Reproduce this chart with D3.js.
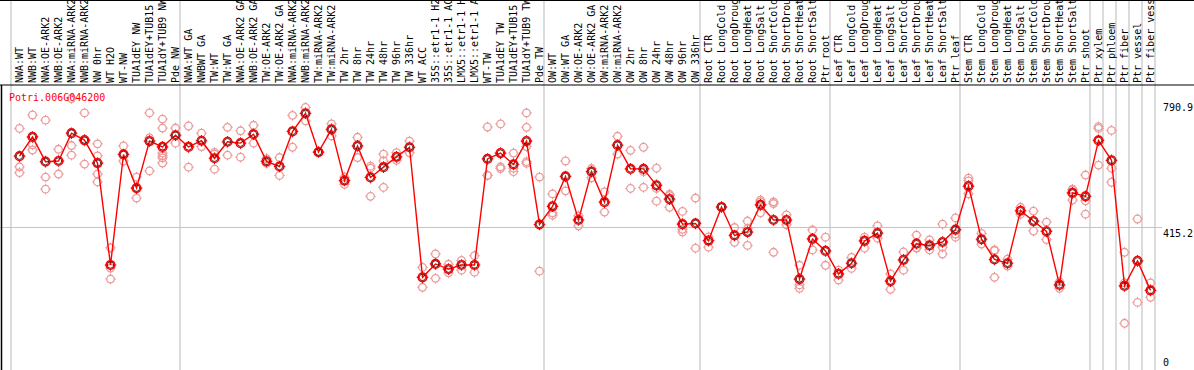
<!DOCTYPE html>
<html>
<head>
<meta charset="utf-8">
<script src="https://cdn.jsdelivr.net/npm/d3@7/dist/d3.min.js"></script>
<style>
body { margin: 0; background: #fff; }
svg { display: block; }
text { font-family: "DejaVu Sans Mono", monospace; font-size: 10px; }
</style>
</head>
<body>
<script>
var width = 1194,
    height = 370;

var geneId = "Potri.006G046200";

var labels = [
  "NWA:WT", "NWB:WT", "NWA:OE-ARK2", "NWB:OE-ARK2", "NWA:miRNA-ARK2", "NWB:miRNA-ARK2",
  "NW 0hr", "WT H2O", "WT-NW", "TUA1dEY NW", "TUA1dEY+TUB15", "TUA1dY+TUB9 NW", "Pde NW",
  "NWA:WT GA", "NWBWT GA", "TW:WT", "TW:WT GA", "NWA:OE-ARK2 GA", "NWB:OE-ARK2 GA",
  "TW:OE-ARK2", "TW:OE-ARK2 GA", "NWA:miRNA-ARK2", "NWB:miRNA-ARK2", "TW:miRNA-ARK2",
  "TW:miRNA-ARK2", "TW 2hr", "TW 8hr", "TW 24hr", "TW 48hr", "TW 96hr", "TW 336hr", "WT ACC",
  "35S::etr1-1 H2O", "35S::etr1-1 ACC", "LMX5::etr1-1 H2O", "LMX5::etr1-1 ACC", "WT-TW",
  "TUA1dEY TW", "TUA1dEY+TUB15", "TUA1dY+TUB9 TW", "Pde TW",
  "OW:WT", "OW:WT GA", "OW:OE-ARK2", "OW:OE-ARK2 GA", "OW:miRNA-ARK2", "OW:miRNA-ARK2",
  "OW 2hr", "OW 8hr", "OW 24hr", "OW 48hr", "OW 96hr", "OW 336hr",
  "Root CTR", "Root LongCold", "Root LongDrought", "Root LongHeat", "Root LongSalt",
  "Root ShortCold", "Root ShortDrought", "Root ShortHeat", "Root ShortSalt", "Ptr root",
  "Leaf CTR", "Leaf LongCold", "Leaf LongDrought", "Leaf LongHeat", "Leaf LongSalt",
  "Leaf ShortCold", "Leaf ShortDrought", "Leaf ShortHeat", "Leaf ShortSalt", "Ptr leaf",
  "Stem CTR", "Stem LongCold", "Stem LongDrought", "Stem LongHeat", "Stem LongSalt",
  "Stem ShortCold", "Stem ShortDrought", "Stem ShortHeat", "Stem ShortSalt", "Ptr shoot",
  "Ptr xylem", "Ptr phloem", "Ptr fiber", "Ptr vessel", "Ptr fiber vessel"
];

// number of samples in each block between the grey separators
var groupSizes = [13, 28, 12, 10, 10, 10, 1, 1, 1, 1, 1];

// mean expression per sample
var means = [
  623, 679, 607, 609, 690, 670, 603, 306, 628, 530, 667, 650, 684,
  650, 668, 617, 665, 661, 687, 608, 593, 695, 748, 635, 701, 552, 653, 561, 591, 621,
  649, 270, 309, 294, 306, 306, 615, 632, 599, 667, 424,
  477, 564, 437, 578, 489, 655, 586, 586, 538, 498, 425, 427,
  377, 475, 392, 402, 481, 437, 437, 265, 382, 347,
  280, 311, 376, 399, 259, 321, 368, 363, 373, 409,
  536, 381, 322, 311, 464, 434, 404, 248, 516, 506,
  669, 611, 245, 318, 232
];

// individual replicates per sample
var replicates = [
  [704, 592, 575], [743, 656, 641], [728, 562, 527], [643, 571], [790.9, 654, 626],
  [749, 667, 600], [659, 624, 571, 548], [356, 297, 265], [653, 609, 628], [562, 501],
  [749, 676, 580], [731, 705, 632, 624, 618, 603], [705, 661],
  [711, 591], [690, 651], [634, 629, 585], [707, 626], [697, 620], [713, 661],
  [616, 602], [619, 567], [742, 649], [765, 726], [635, 635], [717, 682], [562, 541],
  [678, 619], [594, 588, 506], [629, 609, 532], [633, 611], [667, 633],
  [299, 241], [338, 267, 309], [308, 283], [319, 291], [333, 285],
  [708, 567, 567], [717, 592, 587], [632, 588, 578], [749, 707, 651, 607, 602], [562, 288],
  [513, 458, 451], [609, 522], [449, 420], [587, 560], [519, 460], [681, 629],
  [640, 529], [649, 578, 532], [588, 529, 492], [512, 508, 474], [462, 410, 402], [501, 355],
  [388, 358], [475, 475], [415, 372], [434, 412, 363], [495, 490, 458], [490, 485, 343],
  [452, 423], [305, 248, 238], [408, 350], [387, 305],
  [291, 262], [328, 296], [387, 355, 379], [420, 384], [280, 235], [344, 291],
  [393, 355, 356], [379, 350], [425, 358, 338], [443, 387, 396],
  [559, 551, 513], [398, 367], [350, 270, 348], [323, 303], [474, 454], [463, 405],
  [431, 380], [257, 238], [527, 525, 495], [568, 493, 454],
  [709, 704, 597], [698, 588, 547], [343, 254, 136], [440, 197], [254, 212]
];

// value ticks written on the right edge
var yTicks = [0, 415.2, 790.9];

var svg = d3.select("body").append("svg")
    .attr("width", width)
    .attr("height", height);

var headerBottom = 85;

var x = d3.scalePoint()
    .domain(d3.range(labels.length))
    .range([19.5, 1150.5]);

var step = x.step();

var y = d3.scaleLinear()
    .domain([0, yTicks[1] * 2])
    .range([height, headerBottom]);

// separator positions (start of each block + right edge)
var bounds = [0];
groupSizes.forEach(function(n, i) { bounds.push(bounds[i] + n); });

svg.append("g")
    .selectAll("line")
    .data(bounds)
    .enter().append("line")
    .attr("x1", function(d) { return x(0) + d * step - 8.5; })
    .attr("x2", function(d) { return x(0) + d * step - 8.5; })
    .attr("y1", 0)
    .attr("y2", height)
    .attr("stroke", "#c4c4c4")
    .attr("stroke-width", 1.2);

// mid line
svg.append("line")
    .attr("x1", 0)
    .attr("x2", 1162)
    .attr("y1", y(yTicks[1]))
    .attr("y2", y(yTicks[1]))
    .attr("stroke", "#c4c4c4")
    .attr("stroke-width", 1.2);

// frame
svg.append("line")
    .attr("x1", 0).attr("x2", width)
    .attr("y1", 0.5).attr("y2", 0.5)
    .attr("stroke", "#000");
svg.append("line")
    .attr("x1", 0).attr("x2", width)
    .attr("y1", headerBottom).attr("y2", headerBottom)
    .attr("stroke", "#000")
    .attr("stroke-width", 1.2);
svg.append("line")
    .attr("x1", 1.5).attr("x2", 1.5)
    .attr("y1", headerBottom).attr("y2", height)
    .attr("stroke", "#000")
    .attr("stroke-width", 1.5);

// sample names
svg.append("g")
    .selectAll("text")
    .data(labels)
    .enter().append("text")
    .attr("transform", function(d, i) {
        return "translate(" + [x(i) + 3.5, headerBottom - 2] + ")rotate(-90)";
    })
    .attr("fill", "#000")
    .text(function(d) { return d; });

// value labels
svg.append("g")
    .selectAll("text")
    .data(yTicks)
    .enter().append("text")
    .attr("x", 1163)
    .attr("y", function(d, i) { return y(d) + (i === 0 ? -4.5 : i === 1 ? 9 : 12.5); })
    .attr("fill", "#000")
    .text(function(d) { return d; });

function ticks(cx, cy, r) {
    return "M" + [cx, cy - r - 1.5] + "v1.5" +
           "M" + [cx, cy + r] + "v1.5" +
           "M" + [cx - r - 1.5, cy] + "h1.5" +
           "M" + [cx + r, cy] + "h1.5";
}

// replicates
var reps = [];
replicates.forEach(function(list, i) {
    list.forEach(function(v) { reps.push([i, v]); });
});

var repG = svg.append("g")
    .selectAll("g")
    .data(reps)
    .enter().append("g");

repG.append("circle")
    .attr("cx", function(d) { return x(d[0]); })
    .attr("cy", function(d) { return y(d[1]); })
    .attr("r", 3.8)
    .attr("fill", "none")
    .attr("stroke", "#eb9a9a")
    .attr("stroke-width", 1.3);

repG.append("path")
    .attr("d", function(d) { return ticks(x(d[0]), y(d[1]), 3.8); })
    .attr("stroke", "#eb9a9a")
    .attr("stroke-width", 1);

// mean line
svg.append("path")
    .datum(means)
    .attr("fill", "none")
    .attr("stroke", "#ff0000")
    .attr("stroke-width", 1.4)
    .attr("d", d3.line()
        .x(function(d, i) { return x(i); })
        .y(function(d) { return y(d); }));

var meanG = svg.append("g")
    .selectAll("g")
    .data(means)
    .enter().append("g");

meanG.append("circle")
    .attr("cx", function(d, i) { return x(i); })
    .attr("cy", function(d) { return y(d); })
    .attr("r", 4.3)
    .attr("fill", "none")
    .attr("stroke", "#ff0000")
    .attr("stroke-width", 1.6);

meanG.append("circle")
    .attr("cx", function(d, i) { return x(i); })
    .attr("cy", function(d) { return y(d); })
    .attr("r", 3.2)
    .attr("fill", "none")
    .attr("stroke", "#300000")
    .attr("stroke-width", 0.8);

meanG.append("path")
    .attr("d", function(d, i) { return ticks(x(i), y(d), 4.3); })
    .attr("stroke", "#ff0000")
    .attr("stroke-width", 1.2);

// gene id
svg.append("text")
    .attr("x", 9)
    .attr("y", 101)
    .attr("fill", "#ff0000")
    .text(geneId);
</script>
</body>
</html>
